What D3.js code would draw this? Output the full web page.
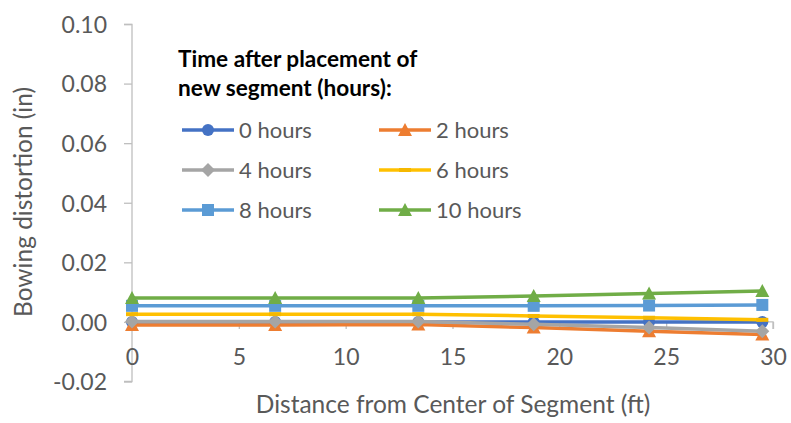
<!DOCTYPE html>
<html><head><meta charset="utf-8">
<script src="https://cdn.jsdelivr.net/npm/d3@7"></script>
<style>body{margin:0;background:#fff}svg{display:block}text{font-family:Lato,"Open Sans",sans-serif}</style>
</head><body><svg id="c" width="791" height="423"></svg>
<script>
const distances = [0, 6.7, 13.4, 18.8, 24.2, 29.5];
const seriesNames = ["0 hours","2 hours","4 hours","6 hours","8 hours","10 hours"];
const h0  = [0.0000, 0.0000, 0.0000, 0.0000, 0.0000, 0.0000];
const h2  = [-0.0010, -0.0010, -0.0009, -0.0019, -0.0031, -0.0042];
const h4  = [0.0001, 0.0001, 0.0001, -0.0008, -0.0019, -0.0031];
const h6  = [0.0026, 0.0026, 0.0026, 0.0020, 0.0014, 0.0007];
const h8  = [0.0054, 0.0054, 0.0054, 0.0054, 0.0055, 0.0057];
const h10 = [0.0080, 0.0080, 0.0080, 0.0087, 0.0095, 0.0104];
const xTicks = [0,5,10,15,20,25,30];
const yTicks = [-0.02,0,0.02,0.04,0.06,0.08,0.10];
const legendTitle = ["Time after placement of","new segment (hours):"];
const xTitle = "Distance from Center of Segment (ft)";
const yTitle = "Bowing distortion (in)";

const colors = ["#4472C4","#ED7D31","#A5A5A5","#FFC000","#5B9BD5","#70AD47"];
const markers = ["circle","triangle","diamond","dash","square","triangle"];
const allSeries = [h0,h2,h4,h6,h8,h10];

const svg = d3.select("#c");
const x = d3.scaleLinear().domain([0,30]).range([132,773]);
const y = d3.scaleLinear().domain([-0.02,0.10]).range([381.5,24]);
const axisColor = "#BFBFBF", textColor = "#595959";
const fmtY = v => d3.format(".2f")(v).replace("\u2212","-");

// Y axis
const yAx = svg.append("g").attr("transform","translate(132,0)")
  .call(d3.axisLeft(y).tickValues(yTicks).tickSize(8).tickFormat(fmtY));
yAx.select(".domain").attr("stroke",axisColor).attr("stroke-width",1.3).attr("d","M-8,24.5H0V381.5H-8");
yAx.selectAll(".tick line").attr("stroke",axisColor).attr("stroke-width",1.3);
yAx.selectAll(".tick text").attr("fill",textColor).style("font-size","23px").attr("x",-25).attr("dy","0.36em");

// X axis at y=0
const xAx = svg.append("g").attr("transform",`translate(0,${y(0)})`)
  .call(d3.axisBottom(x).tickValues(xTicks).tickSize(7).tickFormat(d3.format("d")));
xAx.select(".domain").attr("stroke",axisColor).attr("stroke-width",1.3).attr("d",`M132,7V0H773V7`);
xAx.selectAll(".tick line").attr("stroke",axisColor).attr("stroke-width",1.3);
xAx.selectAll(".tick text").attr("fill",textColor).style("font-size","23px").attr("y",35).attr("dy","0.36em");

// titles
svg.append("text").attr("x",453).attr("y",404).attr("dy","0.36em").attr("text-anchor","middle")
  .attr("fill",textColor).style("font-size","24.5px").text(xTitle);
svg.append("text").attr("transform","translate(23,202) rotate(-90)").attr("dy","0.36em").attr("text-anchor","middle")
  .attr("fill",textColor).style("font-size","24.5px").text(yTitle);

function drawMarker(g, type, color, cx, cy){
  if(type==="circle") g.append("circle").attr("cx",cx).attr("cy",cy).attr("r",6).attr("fill",color);
  else if(type==="square") g.append("rect").attr("x",cx-6).attr("y",cy-6).attr("width",12).attr("height",12).attr("fill",color);
  else if(type==="triangle") g.append("path").attr("d",`M${cx},${cy-7}L${cx+7},${cy+6}L${cx-7},${cy+6}Z`).attr("fill",color);
  else if(type==="diamond") g.append("path").attr("d",`M${cx},${cy-7}L${cx+7},${cy}L${cx},${cy+7}L${cx-7},${cy}Z`).attr("fill",color);
  else if(type==="dash") g.append("rect").attr("x",cx-6).attr("y",cy-2).attr("width",12).attr("height",4).attr("fill","#F5B800");
}

const line = d3.line().x((d,i)=>x(distances[i])).y(d=>y(d));
allSeries.forEach((s,k)=>{
  const g = svg.append("g");
  g.append("path").datum(s).attr("d",line).attr("fill","none").attr("stroke",colors[k]).attr("stroke-width",3.5).attr("stroke-linejoin","round");
  s.forEach((v,i)=>drawMarker(g, markers[k], colors[k], x(distances[i]), y(v)));
});

// legend
const lg = svg.append("g");
legendTitle.forEach((t,i)=>lg.append("text").attr("x",178).attr("y",67+i*29).attr("fill","#000")
  .style("font-size","22.6px").style("font-weight","bold").text(t));
seriesNames.forEach((n,k)=>{
  const col = k%2, row = Math.floor(k/2);
  const x0 = col===0 ? 182 : 379;
  const cy = 130 + row*40;
  lg.append("line").attr("x1",x0).attr("x2",x0+52).attr("y1",cy).attr("y2",cy).attr("stroke",colors[k]).attr("stroke-width",3.5);
  drawMarker(lg, markers[k], colors[k], x0+26, cy);
  lg.append("text").attr("x",x0+57).attr("y",cy).attr("dy","0.36em").attr("fill",textColor).style("font-size","22px").text(n);
});
</script></body></html>
